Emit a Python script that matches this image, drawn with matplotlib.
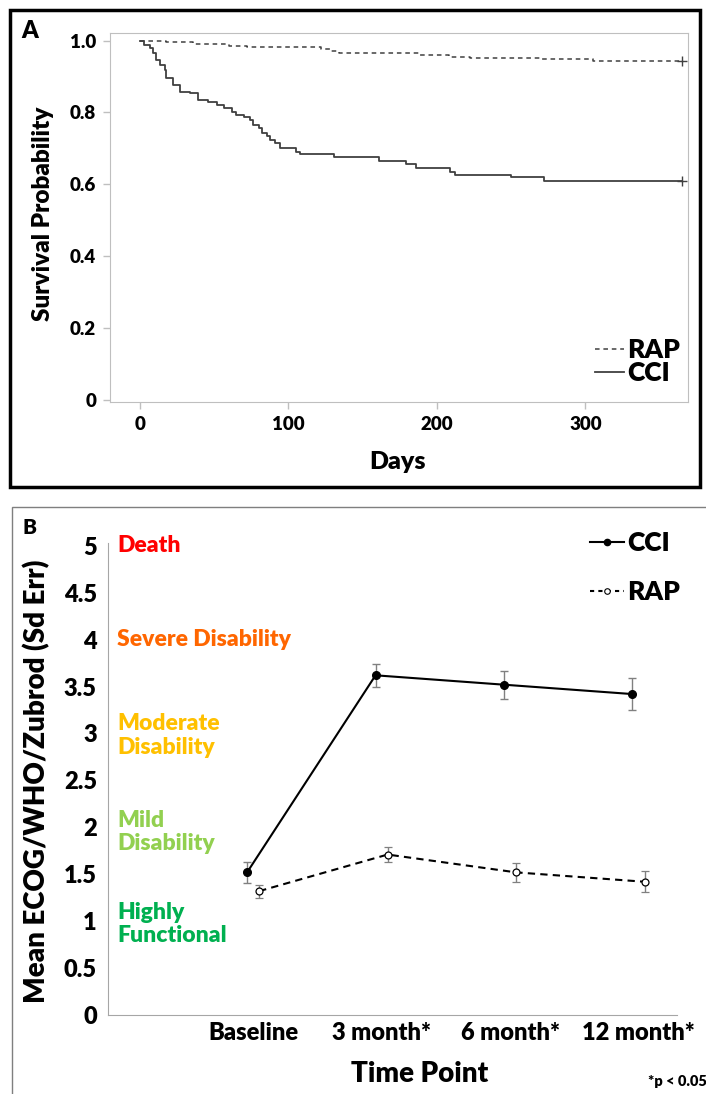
import matplotlib.pyplot as plt
from matplotlib.patches import Rectangle
from matplotlib.lines import Line2D

plt.rcParams['font.family'] = ['Lato', 'DejaVu Sans']
plt.rcParams['font.weight'] = 'heavy'

# panel A - Kaplan-Meier steps
rap_days = [0, 18, 36, 60, 72, 122, 128, 134, 188, 208, 222, 270, 305, 365]
rap_surv = [1.0, 0.996, 0.991, 0.986, 0.982, 0.976, 0.970, 0.965, 0.960, 0.955, 0.951, 0.948, 0.942, 0.942]
cci_days = [0, 3, 7, 9, 11, 13.5, 17, 18, 22.5, 27, 34, 39, 46, 52, 57, 62, 65, 70, 74, 76.5,
            80, 82, 85.5, 88, 91, 94.5, 105, 108, 130.5, 161, 179, 186, 209, 212, 250, 272, 365]
cci_surv = [1.0, 0.988, 0.979, 0.965, 0.946, 0.932, 0.918, 0.895, 0.877, 0.858, 0.854, 0.835,
            0.830, 0.821, 0.812, 0.802, 0.793, 0.787, 0.779, 0.765, 0.756, 0.742, 0.733, 0.724,
            0.714, 0.700, 0.689, 0.684, 0.675, 0.666, 0.657, 0.644, 0.635, 0.626, 0.621, 0.610, 0.610]

# panel B
time_points = ['Baseline', '3 month*', '6 month*', '12 month*']
cci_mean = [1.52, 3.62, 3.52, 3.42]
cci_err = [0.11, 0.12, 0.15, 0.17]
rap_mean = [1.32, 1.71, 1.52, 1.42]
rap_err = [0.07, 0.08, 0.10, 0.11]
levels = ['Death', 'Severe Disability', 'Moderate\nDisability', 'Mild\nDisability', 'Highly\nFunctional']
level_y = [5, 4, 2.98, 1.95, 0.97]
level_colors = ['#FF0000', '#FF6600', '#FFC000', '#92D050', '#00B050']

W, H = 706, 1094
fig = plt.figure(figsize=(W / 100, H / 100), dpi=100)


def fx(px):
    return px / W


def fy(py):
    return 1 - py / H


# ---- panel A ----
axA = fig.add_axes([fx(110), fy(402), fx(688) - fx(110), fy(33) - fy(402)])
axA.step(rap_days, rap_surv, where='post', color='#404040', lw=1.1, ls=(0, (3, 2.5)), label='RAP')
axA.step(cci_days, cci_surv, where='post', color='#404040', lw=1.3, label='CCI')
axA.plot(rap_days[-1], rap_surv[-1], marker='+', color='#404040', ms=7)
axA.plot(cci_days[-1], cci_surv[-1], marker='+', color='#404040', ms=7)
axA.set_xlim(-20, 369)
axA.set_ylim(-0.006, 1.021)
axA.set_xticks([0, 100, 200, 300])
axA.set_yticks([0, 0.2, 0.4, 0.6, 0.8, 1.0])
axA.set_yticklabels(['0', '0.2', '0.4', '0.6', '0.8', '1.0'])
for s in axA.spines.values():
    s.set_color('#BFBFBF')
axA.tick_params(colors='#BFBFBF', length=5, width=1, labelcolor='black', labelsize=13.5, pad=5)
axA.legend(loc='lower right', bbox_to_anchor=(fx(680), fy(385)), bbox_transform=fig.transFigure,
           frameon=False, fontsize=19, handlelength=1.1, handletextpad=0.1, labelspacing=-0.05,
           borderpad=0, borderaxespad=0)
fig.text(fx(43), fy(214), 'Survival Probability', rotation=90, ha='center', va='center', fontsize=17.5)
fig.text(fx(398), fy(462), 'Days', ha='center', va='center', fontsize=18)
fig.text(fx(30), fy(31), 'A', ha='center', va='center', fontsize=17)
fig.patches.append(Rectangle((fx(10), fy(487)), fx(700) - fx(10), fy(10) - fy(487),
                             transform=fig.transFigure, fill=False, ec='black', lw=2.5))

# ---- panel B ----
axB = fig.add_axes([fx(108), fy(1015), fx(677) - fx(108), fy(543) - fy(1015)])
xs = list(range(len(time_points)))
xc = [x - 0.047 for x in xs]
xr = [x + 0.047 for x in xs]
axB.errorbar(xc, cci_mean, yerr=cci_err, color='black', lw=1.5, marker='o', ms=5.5,
             ecolor='#808080', elinewidth=1, capsize=3, label='CCI')
axB.errorbar(xr, rap_mean, yerr=rap_err, color='black', lw=1.5, ls=(0, (3.5, 2.5)), marker='o', ms=5,
             mfc='white', mec='black', mew=0.9, ecolor='#808080', elinewidth=1, capsize=3, label='RAP')
axB.set_xlim(-1.13, 3.30)
axB.set_ylim(0, 5.03)
axB.set_xticks(xs)
axB.set_xticklabels(time_points)
axB.set_yticks([i * 0.5 for i in range(11)])
axB.set_yticklabels(['0', '0.5', '1', '1.5', '2', '2.5', '3', '3.5', '4', '4.5', '5'])
axB.spines['top'].set_visible(False)
axB.spines['right'].set_visible(False)
axB.spines['left'].set_color('#A6A6A6')
axB.spines['bottom'].set_color('#A6A6A6')
axB.tick_params(axis='y', length=0, labelsize=17, pad=8)
axB.tick_params(axis='x', length=0, labelsize=17, pad=5)
for lab, ly, lc in zip(levels, level_y, level_colors):
    axB.text(-1.06, ly, lab, color=lc, fontsize=16.5, ha='left', va='center', linespacing=1.15)
hB = [Line2D([], [], color='black', lw=1.5, marker='o', ms=4.5),
      Line2D([], [], color='black', lw=1.5, ls=(0, (2, 2)), marker='o', ms=4, mfc='white', mec='black', mew=0.8)]
axB.legend(hB, ['CCI', 'RAP'], loc='upper right', bbox_to_anchor=(fx(680), fy(531)),
           bbox_transform=fig.transFigure, frameon=False, fontsize=19, handlelength=1.3,
           handletextpad=0.1, labelspacing=0.95, borderpad=0, borderaxespad=0)
fig.text(fx(37), fy(781), 'Mean ECOG/WHO/Zubrod (Sd Err)', rotation=90, ha='center', va='center', fontsize=20)
fig.text(fx(420), fy(1074), 'Time Point', ha='center', va='center', fontsize=20)
fig.text(fx(677), fy(1081), '*p < 0.05', ha='center', va='center', fontsize=10.5)
fig.text(fx(30), fy(527), 'B', ha='center', va='center', fontsize=15)
fig.patches.append(Rectangle((fx(12), fy(1200)), fx(800) - fx(12), fy(507) - fy(1200),
                             transform=fig.transFigure, fill=False, ec='#7F7F7F', lw=1))

fig.savefig('out.png', dpi=100)
